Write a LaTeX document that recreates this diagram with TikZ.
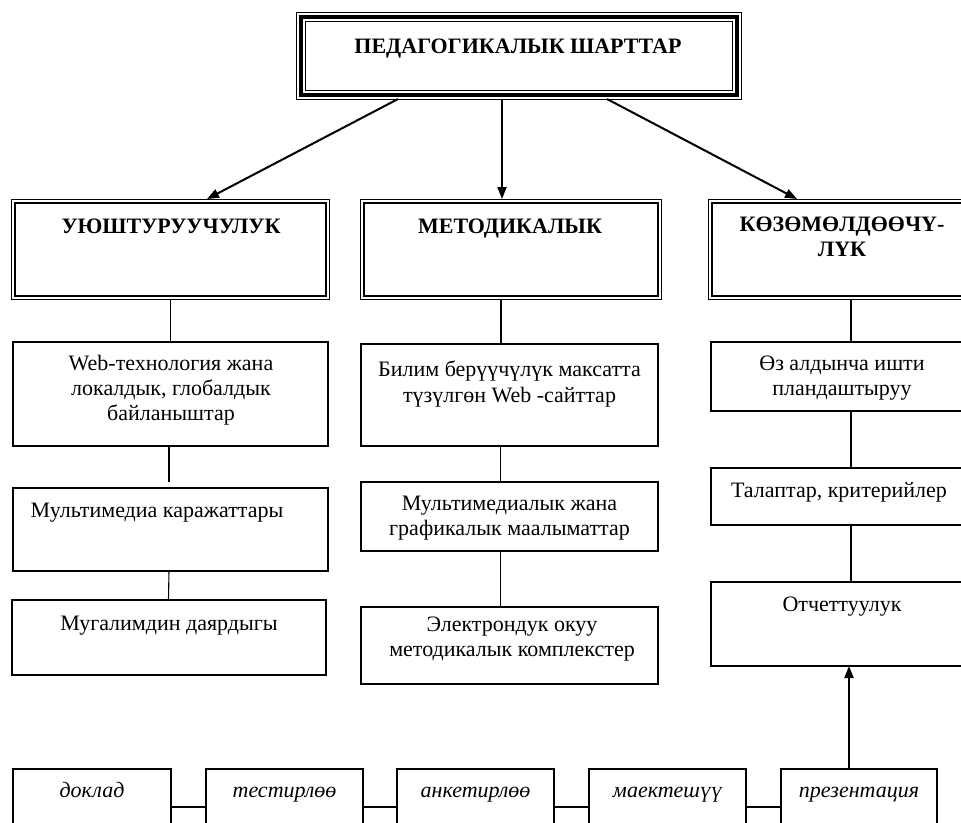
\documentclass[tikz,border=0pt]{standalone}
\usepackage{fontspec}
\setmainfont{Liberation Serif}
\usetikzlibrary{arrows.meta,calc}
\begin{document}
\begin{tikzpicture}[x=1pt,y=-1pt,
  box/.style={draw, line width=1.1pt, anchor=north west, inner sep=0pt, outer sep=0pt},
  dbox/.style={draw, line width=2pt, anchor=north west, inner sep=0pt, outer sep=0pt},
  tbox/.style={draw, line width=4pt, anchor=north west, inner sep=0pt, outer sep=0pt},
  thin/.style={line width=1pt},
  txt/.style={font=\fontsize{22}{25.3}\selectfont, align=center, inner sep=0pt, outer sep=0pt},
  btxt/.style={txt, font=\fontsize{22}{25.3}\selectfont\bfseries},
  itxt/.style={txt, font=\fontsize{22}{25.3}\selectfont\itshape},
  ln/.style={line width=1.1pt},
  arr/.style={line width=2pt, -{Triangle[length=12pt,width=9pt]}},
]
\useasboundingbox (0,0) rectangle (961,822);
\clip (0,0) rectangle (961,822);
\fill[white] (0,0) rectangle (961,822);

% top box: thin - thick - thin
\node[tbox, minimum width=436, minimum height=78] (top) at (301,16.5) {};
\draw[thin] ([xshift=-4.5pt,yshift=4.5pt]top.north west) rectangle ([xshift=4.5pt,yshift=-4.5pt]top.south east);
\draw[thin] ([xshift=4.5pt,yshift=-4.5pt]top.north west) rectangle ([xshift=-4.5pt,yshift=4.5pt]top.south east);
\node[btxt, anchor=base] (toptxt) at (518,53) {ПЕДАГОГИКАЛЫК ШАРТТАР};

% level 2: thin outer, thick inner
\node[dbox, minimum width=311, minimum height=93] (u) at (15,202.5) {};
\node[dbox, minimum width=294, minimum height=93] (m) at (364,202.5) {};
\node[dbox, minimum width=263, minimum height=93] (k) at (712,202.5) {};
\foreach \n in {u,m,k}
  \draw[thin] ([xshift=-3.5pt,yshift=3.5pt]\n.north west) rectangle ([xshift=3.5pt,yshift=-3.5pt]\n.south east);
\node[btxt, anchor=base] (utxt) at (171,233) {УЮШТУРУУЧУЛУК};
\node[btxt, anchor=base] (mtxt) at (510,233) {МЕТОДИКАЛЫК};
\node[btxt, anchor=north] (ktxt) at (842,217) {КӨЗӨМӨЛДӨӨЧҮ-\\ЛҮК};

% arrows from top
\draw[arr] ([xshift=97pt,yshift=-4.5pt]top.south west) -- ([xshift=36.5pt,yshift=3.5pt]u.north);
\draw[arr] ([xshift=-17pt,yshift=-4.5pt]top.south) -- ([xshift=-9pt,yshift=3.5pt]m.north);
\draw[arr] ([xshift=88pt,yshift=-4.5pt]top.south) -- ([xshift=-46.5pt,yshift=3.5pt]k.north);

% left column
\node[box, minimum width=315, minimum height=104] (a1) at (13,342) {};
\node[box, minimum width=315, minimum height=83] (a2) at (13,488) {};
\node[box, minimum width=314, minimum height=75] (a3) at (12,600) {};
\node[txt, anchor=north] (a1t) at (171,355) {Web-технология жана\\локалдык, глобалдык\\байланыштар};
\node[txt, anchor=base] (a2t) at (157,517) {Мультимедиа каражаттары};
\node[txt, anchor=base] (a3t) at (169,630) {Мугалимдин даярдыгы};
\draw[ln] ([yshift=-3.5pt]u.south) -- (a1.north);
\draw[ln] ([xshift=-1.5pt]a1.south) -- ([xshift=-1.5pt,yshift=6pt]a2.north);
\draw[ln] ([xshift=-1.5pt]a2.south) -- ([xshift=-0.5pt]a3.north);

% middle column
\node[box, minimum width=297, minimum height=102] (c1) at (361,344) {};
\node[box, minimum width=297, minimum height=69] (c2) at (361,482) {};
\node[box, minimum width=297, minimum height=77] (c3) at (361,607) {};
\node[txt, anchor=north] (c1t) at (509.5,361) {Билим берүүчүлүк максатта\\түзүлгөн Web -сайттар};
\node[txt, anchor=north] (c2t) at (509.5,496) {Мультимедиалык жана\\графикалык маалыматтар};
\node[txt, anchor=north] (c3t) at (512,617) {Электрондук окуу\\методикалык комплекстер};
\draw[ln] ([xshift=-10pt,yshift=-3.5pt]m.south) -- ([xshift=-8.5pt]c1.north);
\draw[ln] ([xshift=-9pt]c1.south) -- ([xshift=-9pt]c2.north);
\draw[ln] ([xshift=-9pt]c2.south) -- ([xshift=-9pt]c3.north);

% right column
\node[box, minimum width=262, minimum height=69] (d1) at (711,342) {};
\node[box, minimum width=262, minimum height=57] (d2) at (711,468) {};
\node[box, minimum width=262, minimum height=84] (d3) at (711,582) {};
\node[txt, anchor=north] (d1t) at (842,356) {Өз алдынча ишти\\пландаштыруу};
\node[txt, anchor=base] (d2t) at (839,497) {Талаптар, критерийлер};
\node[txt, anchor=base] (d3t) at (842,611) {Отчеттуулук};
\draw[ln] ([xshift=7.5pt,yshift=-3.5pt]k.south) -- ([xshift=9pt]d1.north);
\draw[ln] ([xshift=9pt]d1.south) -- ([xshift=9pt]d2.north);
\draw[ln] ([xshift=9pt]d2.south) -- ([xshift=9pt]d3.north);

% bottom row
\node[box, minimum width=158, minimum height=80] (e1) at (13,769) {};
\node[box, minimum width=157, minimum height=80] (e2) at (206,769) {};
\node[box, minimum width=157, minimum height=80] (e3) at (397,769) {};
\node[box, minimum width=157, minimum height=80] (e4) at (589,769) {};
\node[box, minimum width=156, minimum height=80] (e5) at (781,769) {};
\node[itxt, anchor=base] (e1t) at (92,797) {доклад};
\node[itxt, anchor=base] (e2t) at (284.5,797) {тестирлөө};
\node[itxt, anchor=base] (e3t) at (475.5,797) {анкетирлөө};
\node[itxt, anchor=base] (e4t) at (667.5,797) {маектешүү};
\node[itxt, anchor=base] (e5t) at (859,797) {презентация};
\draw[ln] ([yshift=2pt]e1.east) -- ([yshift=2pt]e2.west);
\draw[ln] ([yshift=2pt]e2.east) -- ([yshift=2pt]e3.west);
\draw[ln] ([yshift=2pt]e3.east) -- ([yshift=2pt]e4.west);
\draw[ln] ([yshift=2pt]e4.east) -- ([yshift=2pt]e5.west);
\draw[arr] ([xshift=-10pt]e5.north) -- ([xshift=7pt]d3.south);
\end{tikzpicture}
\end{document}
